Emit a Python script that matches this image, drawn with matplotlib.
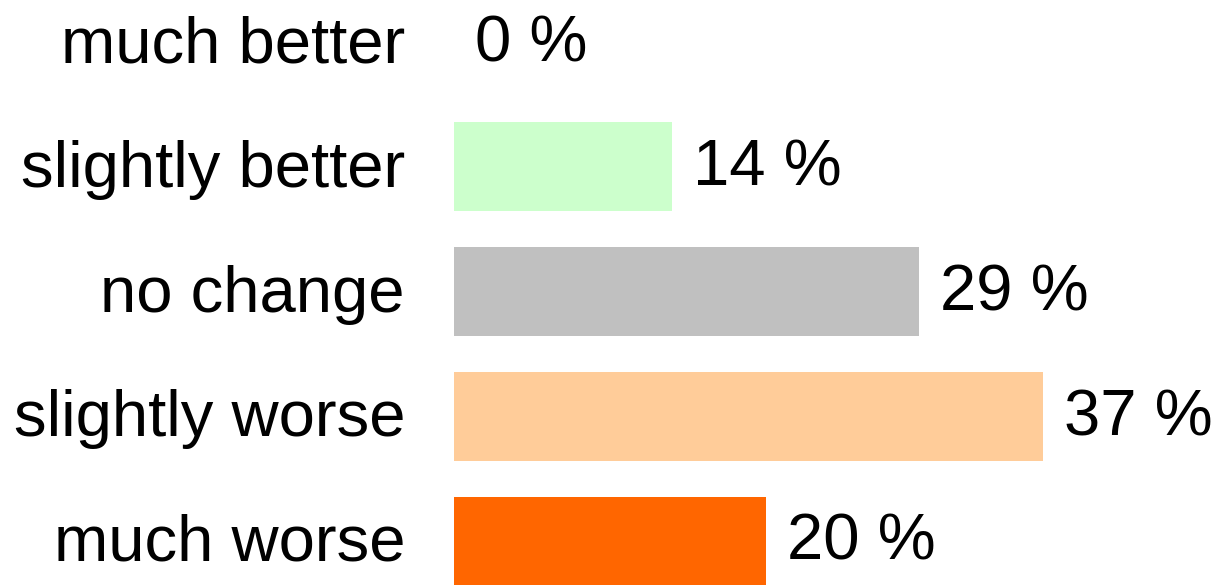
import matplotlib
matplotlib.use("Agg")
import matplotlib.pyplot as plt

# survey answers, top to bottom
categories = ["much better", "slightly better", "no change", "slightly worse", "much worse"]
shares = [0.0, 13.7, 29.2, 37.0, 19.6]
labels = ["0 %", "14 %", "29 %", "37 %", "20 %"]
colors = ["#ccffcc", "#ccffcc", "#c0c0c0", "#ffcc99", "#ff6600"]

plt.rcParams['font.family'] = ['Liberation Sans', 'DejaVu Sans']

W, H, dpi = 1214, 585, 100
fig = plt.figure(figsize=(W / dpi, H / dpi), dpi=dpi)

x0 = 454 / W  # left edge of bars in figure coords
ax = fig.add_axes([x0, 0, 1 - x0, 1])

px_per_pct = 15.92
pos = list(range(len(categories)))
ax.barh(pos, shares, height=0.71, color=colors, linewidth=0)

ax.set_xlim(0, (W - 454) / px_per_pct)
ax.set_ylim(4.353, -0.337)

px = 0.72  # points per pixel at dpi 100
fs = 47
for p, v, lab, cat in zip(pos, shares, labels, categories):
    # value label right of the bar, baseline a bit under bar centre
    ax.annotate(lab, (v, p), xytext=(15, -19 * px), textcoords='offset points',
                va='baseline', ha='left', fontsize=fs)
    # category name left of the axis
    ax.annotate(cat, (0, p), xytext=(-49 * px, -20 * px), textcoords='offset points',
                va='baseline', ha='right', fontsize=fs, annotation_clip=False)

ax.set_yticks([])
ax.set_xticks([])
for s in ax.spines.values():
    s.set_visible(False)

fig.savefig("out.png", dpi=dpi)
